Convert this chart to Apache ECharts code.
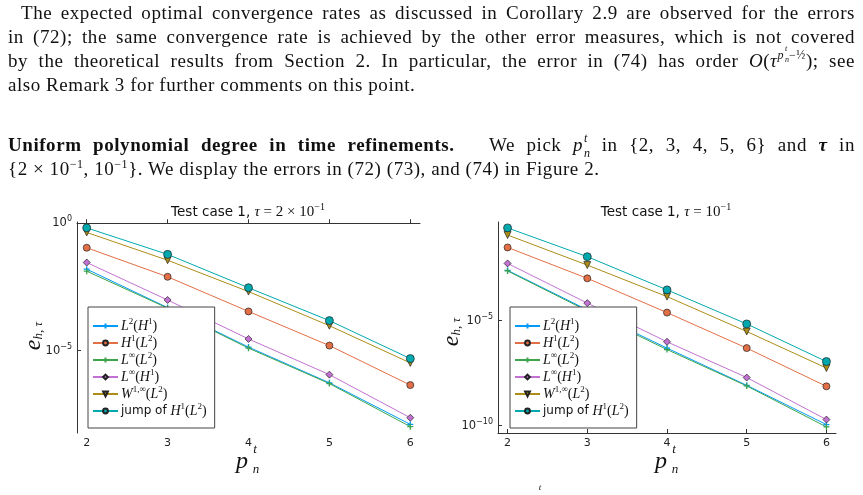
<!DOCTYPE html>
<html>
<head>
<meta charset="utf-8">
<script src="https://cdn.jsdelivr.net/npm/echarts@6/dist/echarts.min.js"></script>
<style>
html, body { margin: 0; padding: 0; background: #fff; }
#chart { position: absolute; left: 0; top: 0; width: 863px; height: 495px; }
.ln {
  position: absolute; left: 8px; width: 847px; height: 22px;
  font-family: "Liberation Serif", "DejaVu Serif", serif; font-size: 19px; line-height: 22px;
  letter-spacing: 0.55px; color: #111; text-align: justify; text-align-last: justify; z-index: 2;
}
.nj { text-align-last: left; }
sup { font-size: 12px; vertical-align: baseline; position: relative; top: -7px; line-height: 0; }
.ex { font-size: 12px; position: relative; top: -8px; line-height: 0; }
.st { display: inline-block; position: relative; width: 7px; height: 1px; }
.st span { position: absolute; left: 1px; font-size: 12px; line-height: 12px; font-style: italic; letter-spacing: 0; }
.st .a { top: -18px; }
.st .b { top: -3px; }
.st2 { display: inline-block; position: relative; width: 5px; height: 1px; }
.st2 span { position: absolute; left: 1px; font-size: 8px; line-height: 8px; font-style: italic; letter-spacing: 0; }
.st2 .a { top: -13px; }
.st2 .b { top: -2px; }
</style>
</head>
<body>
<div class="ln" style="top:2px; left:21px; width:834px;">The expected optimal convergence rates as discussed in Corollary 2.9 are observed for the errors</div>
<div class="ln" style="top:26px;">in (72); the same convergence rate is achieved by the other error measures, which is not covered</div>
<div class="ln" style="top:50px;">by the theoretical results from Section 2. In particular, the error in (74) has order <i>O</i>(<i>τ</i><span class="ex"><i>p</i><span class="st2"><span class="a">t</span><span class="b">n</span></span>−½</span>); see</div>
<div class="ln nj" style="top:74px;">also Remark 3 for further comments on this point.</div>
<div class="ln" style="top:134px;"><b>Uniform polynomial degree in time refinements.</b>&nbsp;&nbsp; We pick <i>p</i><span class="st"><span class="a">t</span><span class="b">n</span></span> in {2, 3, 4, 5, 6} and <b><i>τ</i></b> in</div>
<div class="ln nj" style="top:158px;">{2 × 10<sup>−1</sup>, 10<sup>−1</sup>}. We display the errors in (72) (73), and (74) in Figure 2.</div>
<div id="chart"></div>
<script>
// polynomial degree p_n^t
const pDeg = [2, 3, 4, 5, 6];
const xTicks = [2, 3, 4, 5, 6];
const seriesNames = ['L2H1', 'H1L2', 'LinfL2', 'LinfH1', 'W1infL2', 'jumpH1L2'];

// log10 of the errors, tau = 2e-1 (left panel)
const leftL2H1 = [-1.80, -3.31, -4.86, -6.26, -7.89];
const leftH1L2 = [-0.96, -2.10, -3.46, -4.80, -6.35];
const leftLinfL2 = [-1.88, -3.33, -4.90, -6.29, -7.98];
const leftLinfH1 = [-1.54, -3.01, -4.54, -5.94, -7.63];
const leftW1infL2 = [-0.36, -1.45, -2.68, -4.02, -5.48];
const leftJumpH1L2 = [-0.18, -1.22, -2.53, -3.82, -5.31];

// log10 of the errors, tau = 1e-1 (right panel)
const rightL2H1 = [-2.61, -4.49, -6.31, -8.08, -9.95];
const rightH1L2 = [-1.52, -2.99, -4.62, -6.31, -8.13];
const rightLinfL2 = [-2.64, -4.54, -6.38, -8.11, -10.06];
const rightLinfH1 = [-2.28, -4.17, -6.01, -7.71, -9.71];
const rightW1infL2 = [-0.93, -2.36, -3.86, -5.52, -7.26];
const rightJumpH1L2 = [-0.59, -1.96, -3.54, -5.16, -6.95];

const leftYTicks = [-5, 0];
const rightYTicks = [-10, -5];

const chart = echarts.init(document.getElementById('chart'));

const SANS = 'DejaVu Sans';
const SERIF = 'Liberation Serif';
const plusPath = 'path://M0,5L10,5M5,0L5,10';

const styles = {
  L2H1: { color: '#009AF9', symbol: plusPath, size: 6, plus: true },
  H1L2: { color: '#E26F46', symbol: 'circle', size: 7 },
  LinfL2: { color: '#3DA44D', symbol: plusPath, size: 6, plus: true },
  LinfH1: { color: '#C271D2', symbol: 'diamond', size: 7 },
  W1infL2: { color: '#AC8D18', symbol: 'triangle', size: 7, rot: 180 },
  jumpH1L2: { color: '#00A9AD', symbol: 'circle', size: 8 }
};

const legendText = {
  L2H1: '{i|L}{s|2}{r|(}{i|H}{s|1}{r|)}',
  H1L2: '{i|H}{s|1}{r|(}{i|L}{s|2}{r|)}',
  LinfL2: '{i|L}{s|∞}{r|(}{i|L}{s|2}{r|)}',
  LinfH1: '{i|L}{s|∞}{r|(}{i|H}{s|1}{r|)}',
  W1infL2: '{i|W}{s|1,∞}{r|(}{i|L}{s|2}{r|)}',
  jumpH1L2: '{t|jump of }{i|H}{s|1}{r|(}{i|L}{s|2}{r|)}'
};

const richLegend = {
  i: { fontFamily: SERIF, fontStyle: 'italic', fontSize: 14, lineHeight: 15, color: '#111' },
  r: { fontFamily: SERIF, fontSize: 14, lineHeight: 15, color: '#111' },
  s: { fontFamily: SERIF, fontSize: 9, lineHeight: 12, padding: [0, 0, 9, 0], color: '#111' },
  t: { fontFamily: SANS, fontSize: 12, lineHeight: 15, color: '#111' }
};

function mkSeries(name, arr, gi) {
  const st = styles[name];
  return {
    name: name,
    type: 'line',
    xAxisIndex: gi,
    yAxisIndex: gi,
    data: pDeg.map((p, i) => [p, arr[i]]),
    symbol: st.symbol,
    symbolSize: st.size,
    symbolRotate: st.rot || 0,
    showSymbol: true,
    lineStyle: { color: st.color, width: 1 },
    itemStyle: {
      color: st.color,
      borderColor: st.plus ? st.color : '#222',
      borderWidth: st.plus ? 1.3 : 0.7
    },
    emphasis: { disabled: true }
  };
}

function expLabel(v) {
  return '10{s|' + (v === 0 ? '0' : '−' + (-v)) + '}';
}

function mkX(gi) {
  return {
    type: 'value', gridIndex: gi, min: 1.88, max: 6.12,
    axisLine: { show: true, lineStyle: { color: '#333', width: 1 } },
    axisTick: { show: true, inside: true, length: 4, customValues: xTicks, lineStyle: { color: '#333' } },
    axisLabel: { customValues: xTicks, fontFamily: SANS, fontSize: 11, color: '#222', margin: 5 },
    splitLine: { show: false }
  };
}

function mkY(gi, min, max, ticks) {
  return {
    type: 'value', gridIndex: gi, min: min, max: max,
    axisLine: { show: true, lineStyle: { color: '#333', width: 1 } },
    axisTick: { show: true, inside: true, length: 4, customValues: ticks, lineStyle: { color: '#333' } },
    axisLabel: {
      customValues: ticks, formatter: expLabel, fontFamily: SANS, fontSize: 11.5, color: '#222', margin: 5,
      rich: { s: { fontFamily: SANS, fontSize: 8, padding: [0, 0, 8, 0], lineHeight: 12, color: '#222' } }
    },
    splitLine: { show: false }
  };
}

function mkLegend(left) {
  return {
    orient: 'vertical', left: left, top: 307,
    data: seriesNames,
    itemWidth: 25, itemHeight: 6, itemGap: -1,
    padding: [10, 8, 8, 4],
    borderColor: '#444', borderWidth: 1, backgroundColor: '#fff',
    selectedMode: false,
    formatter: name => legendText[name],
    textStyle: { rich: richLegend, padding: [0, 0, 0, -2] }
  };
}

const titleRich = {
  it: { fontFamily: SERIF, fontStyle: 'italic', fontSize: 15, lineHeight: 16, fill: '#111' },
  r: { fontFamily: SERIF, fontSize: 15, lineHeight: 16, fill: '#111' },
  s: { fontFamily: SERIF, fontSize: 10, padding: [0, 0, 9, 0], lineHeight: 12, fill: '#111' },
  t: { fontFamily: SANS, fontSize: 13.5, lineHeight: 16, fill: '#111' }
};

function pName(x, y) {
  return [
    { type: 'text', x: x - 6, y: y, style: { text: 'p', fontFamily: SERIF, fontStyle: 'italic', fontSize: 24, fill: '#111', align: 'center', verticalAlign: 'middle' } },
    { type: 'text', x: x + 7, y: y - 12, style: { text: 't', fontFamily: SERIF, fontStyle: 'italic', fontSize: 13, fill: '#111', align: 'center', verticalAlign: 'middle' } },
    { type: 'text', x: x + 8, y: y + 8, style: { text: 'n', fontFamily: SERIF, fontStyle: 'italic', fontSize: 13, fill: '#111', align: 'center', verticalAlign: 'middle' } }
  ];
}

function eName(x, y) {
  return {
    type: 'text', x: x, y: y, rotation: Math.PI / 2,
    style: {
      text: '{e|e}{b|h, τ}', align: 'center', verticalAlign: 'middle',
      rich: {
        e: { fontFamily: SERIF, fontStyle: 'italic', fontSize: 24, fill: '#111', lineHeight: 26 },
        b: { fontFamily: SERIF, fontStyle: 'italic', fontSize: 13, fill: '#111', padding: [10, 0, 0, 0], lineHeight: 16 }
      }
    }
  };
}

const series = [
  mkSeries('L2H1', leftL2H1, 0), mkSeries('H1L2', leftH1L2, 0), mkSeries('LinfL2', leftLinfL2, 0),
  mkSeries('LinfH1', leftLinfH1, 0), mkSeries('W1infL2', leftW1infL2, 0), mkSeries('jumpH1L2', leftJumpH1L2, 0),
  mkSeries('L2H1', rightL2H1, 1), mkSeries('H1L2', rightH1L2, 1), mkSeries('LinfL2', rightLinfL2, 1),
  mkSeries('LinfH1', rightLinfH1, 1), mkSeries('W1infL2', rightW1infL2, 1), mkSeries('jumpH1L2', rightJumpH1L2, 1)
];

chart.setOption({
  animation: false,
  backgroundColor: 'transparent',
  grid: [
    { left: 77, top: 222, width: 343, height: 211 },
    { left: 498, top: 222, width: 338, height: 211 }
  ],
  xAxis: [mkX(0), mkX(1)],
  yAxis: [mkY(0, -8.23, 0.05, leftYTicks), mkY(1, -10.35, -0.31, rightYTicks)],
  legend: [mkLegend(88), mkLegend(510)],
  graphic: [
    { type: 'text', x: 248, y: 212, style: { text: '{t|Test case 1, }{it|τ}{r| = 2 × 10}{s|−1}', align: 'center', verticalAlign: 'middle', rich: titleRich } },
    { type: 'text', x: 666, y: 212, style: { text: '{t|Test case 1, }{it|τ}{r| = 10}{s|−1}', align: 'center', verticalAlign: 'middle', rich: titleRich } },
    eName(34, 336),
    eName(452, 332),
    ...pName(248, 462),
    ...pName(667, 462),
    { type: 'text', x: 540, y: 488, style: { text: 't', fontFamily: SERIF, fontStyle: 'italic', fontSize: 9, fill: '#111', align: 'center', verticalAlign: 'middle' } }
  ],
  series: series
});
</script>
</body>
</html>
